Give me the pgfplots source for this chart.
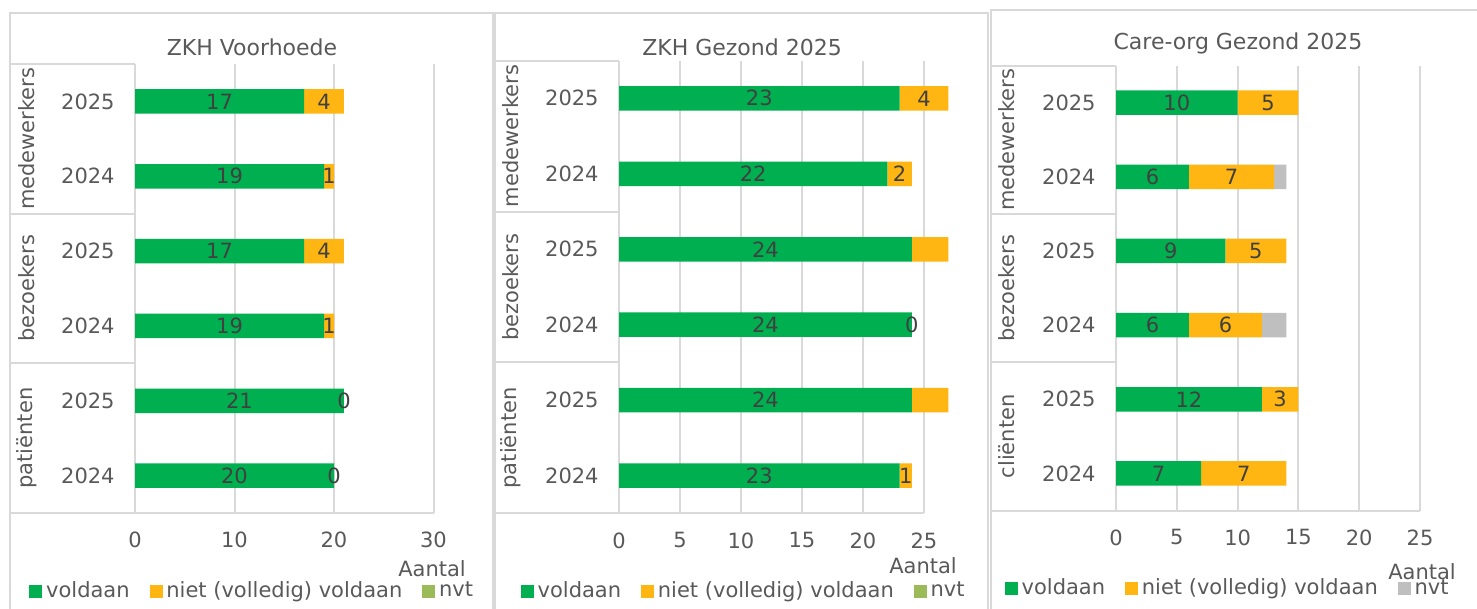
\documentclass[border=0pt]{standalone}
\usepackage{pgfplots}
\pgfplotsset{compat=1.18}
\usepackage{pgfplotstable}
\usepackage{fontspec}
\setmainfont{DejaVu Sans}
\definecolor{cgreen}{HTML}{00B050}
\definecolor{corange}{HTML}{FFB612}
\definecolor{colive}{HTML}{9BBB59}
\definecolor{cgrey}{HTML}{BFBFBF}
\definecolor{gridc}{HTML}{D9D9D9}
\definecolor{txt}{HTML}{595959}
\definecolor{lab}{HTML}{404040}
\newcommand\fs{\fontsize{10.5pt}{12pt}\selectfont}
\newcommand\fst{\fontsize{11pt}{13pt}\selectfont}
\tikzset{frm/.style={gridc, line width=1pt}}

% rows: 5 = medewerkers 2025, 4 = medewerkers 2024, 3 = bezoekers 2025,
%       2 = bezoekers 2024, 1 = patienten/clienten 2025, 0 = 2024
% v = voldaan, n = niet (volledig) voldaan, g = nvt; vl, nl = shown labels
\pgfplotstableread{
y v vl n nl
5 17 17 4 4
4 19 19 1 1
3 17 17 4 4
2 19 19 1 1
1 21 21 0 0
0 20 20 0 0
}\tabA
\pgfplotstableread{
y v vl n nl
5 23 23 4 4
4 22 22 2 2
3 24 24 3 {}
2 24 24 0 0
1 24 24 3 {}
0 23 23 1 1
}\tabB
\pgfplotstableread{
y v vl n nl g
5 10 10 5 5 0
4 6 6 7 7 1
3 9 9 5 5 0
2 6 6 6 6 2
1 12 12 3 3 0
0 7 7 7 7 0
}\tabC

\pgfplotsset{
  geom/.style={scale only axis, clip=false, anchor=south west,
    ymin=-0.5, ymax=5.5, xmin=0},
  panel/.style={geom,
    xbar stacked, bar width=12.25pt,
    ytick={0,1,2,3,4,5},
    yticklabels={2024,2025,2024,2025,2024,2025},
    axis line style={draw=none},
    major tick length=0pt,
    xmajorgrids, grid style={gridc, line width=1pt},
    tick label style={font=\fs, text=txt},
    /pgf/number format/assume math mode=true,
    yticklabel style={inner sep=0pt, xshift=-10pt},
    xticklabel style={yshift=-6pt},
    legend columns=3,
    legend style={draw=none, fill=none, font=\fs, text=txt, anchor=center,
      /tikz/every even column/.append style={column sep=8pt}},
  },
  labaxis/.style={geom, hide axis},
  seg/.style={draw=none, fill=#1, forget plot},
  lbl/.style={draw=none, mark=none, forget plot,
     nodes near coords={\pgfplotspointmeta},
     point meta=explicit symbolic,
     nodes near coords align={anchor=center},
     every node near coord/.style={anchor=center, font=\fs, text=lab}},
  sq/.style={legend image code/.code={\fill[#1] (0pt,-3pt) rectangle (6pt,3pt);}},
}

\begin{document}
\begin{tikzpicture}[x=0.5pt, y=-0.5pt]
\useasboundingbox (0,0) rectangle (1477,609);
% panel frames
\draw[frm] (10,609) -- (10,13) -- (493,13) -- (493,609);
\draw[frm] (495,609) -- (495,13) -- (988,13) -- (988,609);
\draw[frm] (991,609) -- (991,10) -- (1477,10);
% titles
\node[font=\fst, text=txt] at (252,47) {ZKH Voorhoede};
\node[font=\fst, text=txt] at (742,47) {ZKH Gezond 2025};
\node[font=\fst, text=txt] at (1238,43) {Care-org Gezond 2025};
% Aantal
\node[font=\fs, text=txt] at (432,569) {Aantal};
\node[font=\fs, text=txt] at (923,566) {Aantal};
\node[font=\fs, text=txt] at (1422,572) {Aantal};

% ---------- panel 1
\begin{axis}[panel, at={(67.5pt,-256.5pt)}, width=149.25pt, height=224.5pt,
  xmax=30, xtick={0,10,20,30},
  legend style={at={(0.396,-0.1737)}}]
\addplot[seg=cgreen] table[x=v,y=y]{\tabA};
\addplot[seg=corange] table[x=n,y=y]{\tabA};
\addlegendimage{sq=cgreen}\addlegendentry{voldaan}
\addlegendimage{sq=corange}\addlegendentry{niet (volledig) voldaan}
\addlegendimage{sq=colive}\addlegendentry{nvt}
\draw[frm] (axis cs:0,5.5) -- ++(-62.5pt,0pt);
\draw[frm] (axis cs:0,3.5) -- ++(-62.5pt,0pt);
\draw[frm] (axis cs:0,1.5) -- ++(-62.5pt,0pt);
\draw[frm] (axis cs:30,-0.5) -- (axis cs:0,-0.5) -- ++(-62.5pt,0pt);
\node[rotate=90, font=\fs, text=txt] at ([xshift=-54pt]axis cs:0,4.5) {medewerkers};
\node[rotate=90, font=\fs, text=txt] at ([xshift=-54pt]axis cs:0,2.5) {bezoekers};
\node[rotate=90, font=\fs, text=txt] at ([xshift=-54pt]axis cs:0,0.5) {patiënten};
\end{axis}
\begin{axis}[labaxis, at={(67.5pt,-256.5pt)}, width=149.25pt, height=224.5pt, xmax=30]
\addplot[lbl] table[x expr=\thisrow{v}/2, y=y, meta=vl]{\tabA};
\addplot[lbl] table[x expr=\thisrow{v}+\thisrow{n}/2, y=y, meta=nl]{\tabA};
\end{axis}

% ---------- panel 2
\begin{axis}[panel, at={(309.5pt,-256.7pt)}, width=170.8pt, height=226.4pt,
  xmax=28, xtick={0,5,10,15,20,25},
  legend style={at={(0.368,-0.1714)}}]
\addplot[seg=cgreen] table[x=v,y=y]{\tabB};
\addplot[seg=corange] table[x=n,y=y]{\tabB};
\addlegendimage{sq=cgreen}\addlegendentry{voldaan}
\addlegendimage{sq=corange}\addlegendentry{niet (volledig) voldaan}
\addlegendimage{sq=colive}\addlegendentry{nvt}
\draw[frm] (axis cs:0,5.5) -- ++(-62pt,0pt);
\draw[frm] (axis cs:0,3.5) -- ++(-62pt,0pt);
\draw[frm] (axis cs:0,1.5) -- ++(-62pt,0pt);
\draw[frm] (axis cs:25,-0.5) -- (axis cs:0,-0.5) -- ++(-62pt,0pt);
\node[rotate=90, font=\fs, text=txt] at ([xshift=-54pt]axis cs:0,4.5) {medewerkers};
\node[rotate=90, font=\fs, text=txt] at ([xshift=-54pt]axis cs:0,2.5) {bezoekers};
\node[rotate=90, font=\fs, text=txt] at ([xshift=-54pt]axis cs:0,0.5) {patiënten};
\end{axis}
\begin{axis}[labaxis, at={(309.5pt,-256.7pt)}, width=170.8pt, height=226.4pt, xmax=28]
\addplot[lbl] table[x expr=\thisrow{v}/2, y=y, meta=vl]{\tabB};
\addplot[lbl] table[x expr=\thisrow{v}+\thisrow{n}/2, y=y, meta=nl]{\tabB};
\end{axis}

% ---------- panel 3
\begin{axis}[panel, at={(558pt,-255.25pt)}, width=152pt, height=222.5pt,
  xmax=25, xtick={0,5,10,15,20,25},
  legend style={at={(0.3707,-0.1748)}}]
\addplot[seg=cgreen] table[x=v,y=y]{\tabC};
\addplot[seg=corange] table[x=n,y=y]{\tabC};
\addplot[seg=cgrey] table[x=g,y=y]{\tabC};
\addlegendimage{sq=cgreen}\addlegendentry{voldaan}
\addlegendimage{sq=corange}\addlegendentry{niet (volledig) voldaan}
\addlegendimage{sq=cgrey}\addlegendentry{nvt}
\draw[frm] (axis cs:0,5.5) -- ++(-62.5pt,0pt);
\draw[frm] (axis cs:0,3.5) -- ++(-62.5pt,0pt);
\draw[frm] (axis cs:0,1.5) -- ++(-62.5pt,0pt);
\draw[frm] (axis cs:25,-0.5) -- (axis cs:0,-0.5) -- ++(-62.5pt,0pt);
\node[rotate=90, font=\fs, text=txt] at ([xshift=-54.5pt]axis cs:0,4.5) {medewerkers};
\node[rotate=90, font=\fs, text=txt] at ([xshift=-54.5pt]axis cs:0,2.5) {bezoekers};
\node[rotate=90, font=\fs, text=txt] at ([xshift=-54.5pt]axis cs:0,0.5) {cliënten};
\end{axis}
\begin{axis}[labaxis, at={(558pt,-255.25pt)}, width=152pt, height=222.5pt, xmax=25]
\addplot[lbl] table[x expr=\thisrow{v}/2, y=y, meta=vl]{\tabC};
\addplot[lbl] table[x expr=\thisrow{v}+\thisrow{n}/2, y=y, meta=nl]{\tabC};
\end{axis}
\end{tikzpicture}
\end{document}
